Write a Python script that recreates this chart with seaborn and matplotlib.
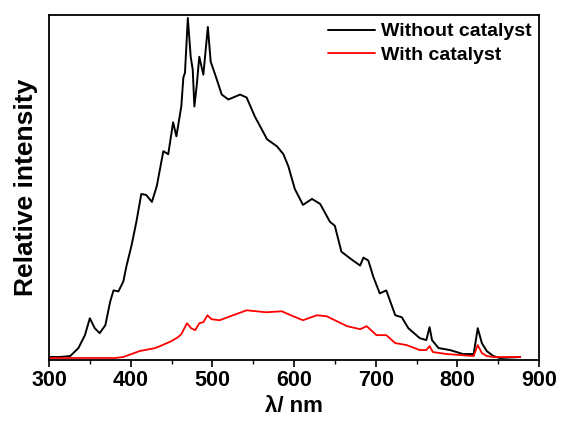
import numpy as np
import pandas as pd
import matplotlib
matplotlib.use("Agg")
import matplotlib.pyplot as plt
import seaborn as sns
from matplotlib.ticker import MultipleLocator

# Without catalyst
wl_without = [300, 313, 326, 336, 344, 350, 356, 362, 369, 375, 379, 385, 391, 395, 401,
              407, 413, 419, 426, 432, 440, 446, 452, 456, 462, 464.5, 466.5, 470, 473.5, 476,
              478, 481, 484, 489, 494.5, 498, 503.5, 511.5, 519.6, 534, 542, 552, 567, 579, 587,
              593, 601, 611, 622, 632, 644, 650, 658, 669, 681, 685, 691, 697, 705, 713,
              724, 732, 740, 754, 762, 766, 769, 777, 791, 807, 820, 825, 830, 836, 844,
              852, 877]
int_without = [1, 1, 2, 10, 23, 40, 30, 25, 33, 57, 68, 67, 77, 93, 113,
               137, 165, 164, 157, 173, 208, 205, 237, 223, 253, 282, 287, 342, 303, 290,
               253, 275, 303, 285, 333, 298, 285, 265, 260, 265, 262, 243, 220, 213, 205,
               193, 170, 154, 160, 155, 137, 133, 107, 100, 93, 101, 98, 82, 65, 68,
               43, 41, 30, 20, 18, 31, 18, 10, 8, 4, 4, 30, 15, 7, 2,
               0, 1]

# With catalyst
wl_with = [300, 381, 391, 411, 430, 436, 450, 458, 462, 469, 474, 479, 484, 489, 494,
           499, 509, 522, 542, 566, 585, 599, 611, 628, 640, 650, 665, 681, 689, 701,
           713, 724, 738, 754, 762, 766, 770, 787, 820, 825, 830, 836, 844, 877]
int_with = [0, 0, 1, 7, 10, 12, 17, 21, 24, 35, 30, 28, 35, 36, 43,
            39, 38, 42, 48, 46, 47, 42, 38, 43, 42, 38, 32, 29, 32, 23,
            23, 15, 13, 8, 8, 12, 6, 4, 2, 13, 5, 2, 1, 1]

labels = ["Without catalyst", "With catalyst"]
colors = ["#000000", "#ff0000"]
x_ticks = [300, 400, 500, 600, 700, 800, 900]

sns.set_style("ticks")
plt.rcParams["font.family"] = ["Liberation Sans", "DejaVu Sans"]
plt.rcParams["font.weight"] = "bold"
plt.rcParams["text.color"] = "black"
plt.rcParams["axes.labelcolor"] = "black"
plt.rcParams["xtick.color"] = "black"
plt.rcParams["ytick.color"] = "black"

fig = plt.figure(figsize=(5.61, 4.26), dpi=100)
ax = fig.add_axes([49 / 561, 66 / 426, 490 / 561, 345 / 426])

df1 = pd.DataFrame({"wl": wl_without, "I": int_without})
df2 = pd.DataFrame({"wl": wl_with, "I": int_with})
sns.lineplot(data=df1, x="wl", y="I", ax=ax, color=colors[0], lw=1.4, label=labels[0])
sns.lineplot(data=df2, x="wl", y="I", ax=ax, color=colors[1], lw=1.3, label=labels[1])
for ln in ax.get_lines():
    ln.set_solid_joinstyle("round")

ax.set_xlim(300, 900)
ax.set_ylim(-2, 345)
ax.set_xticks(x_ticks)
ax.set_xticklabels([str(t) for t in x_ticks], fontsize=15.5, fontweight="bold")
ax.xaxis.set_minor_locator(MultipleLocator(50))
ax.tick_params(axis="x", which="major", direction="out", length=5, width=1.2, pad=2)
ax.tick_params(axis="x", which="minor", direction="out", length=3, width=1.0)
ax.set_yticks([])
for s in ax.spines.values():
    s.set_linewidth(1.3)
    s.set_color("black")

ax.set_xlabel("λ/ nm", fontsize=16, fontweight="bold", labelpad=4)
ax.set_ylabel("Relative intensity", fontsize=19, fontweight="bold", labelpad=8)

leg = ax.legend(loc="upper right", frameon=False, fontsize=14, handlelength=2.4,
                handletextpad=0.3, borderaxespad=0.0, labelspacing=0.3)
for t in leg.get_texts():
    t.set_fontweight("bold")
    t.set_color("black")

fig.savefig("out.png", dpi=100)
